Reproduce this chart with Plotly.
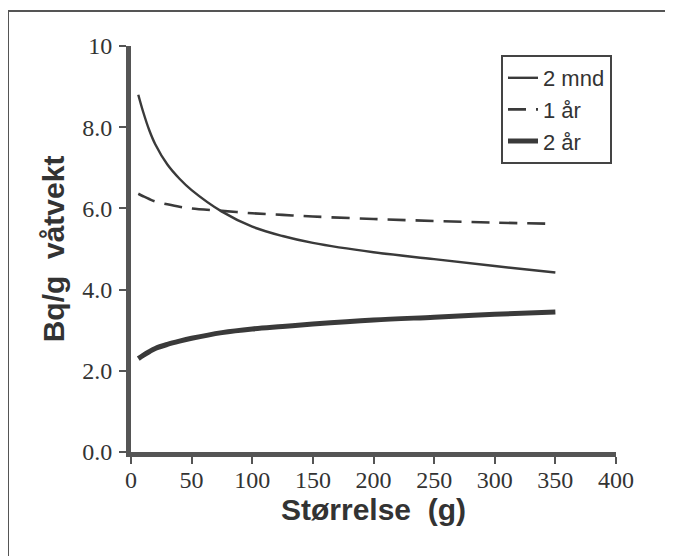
import plotly.graph_objects as go

# Data
size_g = [6, 10, 15, 20, 30, 40, 50, 75, 100, 125, 150, 200, 250, 300, 350]
mnd2 = [8.8, 8.38, 7.93, 7.58, 7.08, 6.73, 6.45, 5.92, 5.55, 5.32, 5.15, 4.92, 4.75, 4.58, 4.42]
aar1 = [6.36, 6.3, 6.23, 6.17, 6.1, 6.04, 6.0, 5.94, 5.88, 5.84, 5.8, 5.74, 5.69, 5.65, 5.62]
aar2 = [2.3, 2.38, 2.47, 2.55, 2.65, 2.73, 2.8, 2.94, 3.03, 3.09, 3.15, 3.25, 3.32, 3.39, 3.45]

x_ticks = [0, 50, 100, 150, 200, 250, 300, 350, 400]
y_ticks = [0, 2, 4, 6, 8, 10]
y_ticktext = ["0.0", "2.0", "4.0", "6.0", "8.0", "10"]

names = ["2 mnd", "1 år", "2 år"]

LINE = "#3a3a3a"
AXIS = "#555555"
TXT = "#333333"
SERIF = "Liberation Serif, Times New Roman, serif"
SANS = "Liberation Sans, Arial, sans-serif"

fig = go.Figure()
fig.add_trace(go.Scatter(x=size_g, y=mnd2, mode="lines", name=names[0], legendgroup="a",
                         line=dict(color=LINE, width=2.4, shape="spline")))
fig.add_trace(go.Scatter(x=size_g, y=aar1, mode="lines", name=names[1], legendgroup="b",
                         line=dict(color=LINE, width=2.6, dash="18px,10px", shape="spline")))
fig.add_trace(go.Scatter(x=size_g, y=aar2, mode="lines", name=names[2], legendgroup="c",
                         line=dict(color=LINE, width=5, shape="spline")))

# page has an 8px body margin, so the figure is drawn 8px smaller and offset
OFF = 8
W, H = 673 - OFF, 556 - OFF
L = 131 - OFF
T = 46 - OFF
B = H - (452 - OFF)
R = W - (616 - OFF)
pw, ph = W - L - R, H - T - B

def px(xp):
    return (xp - OFF - L) / pw

def py(yp):
    return (H - B - (yp - OFF)) / ph

fig.update_layout(
    width=W, height=H,
    margin=dict(l=L, r=R, t=T, b=B),
    paper_bgcolor="white", plot_bgcolor="white",
    font=dict(family=SERIF, color=TXT),
    showlegend=True,
    legend=dict(
        x=px(612), y=py(55), xanchor="right", yanchor="top",
        bordercolor="#444444", borderwidth=2, bgcolor="white",
        font=dict(family=SANS, size=22, color=TXT),
        tracegroupgap=0, traceorder="grouped",
    ),
    xaxis=dict(
        range=[0, 400], tickvals=x_ticks, ticktext=[str(v) for v in x_ticks],
        showline=True, linecolor=AXIS, linewidth=5, showgrid=False, zeroline=False,
        ticks="outside", ticklen=7, tickwidth=1.5, tickcolor=AXIS,
        ticklabelstandoff=-5,
        tickfont=dict(family=SERIF, size=24, color=TXT),
        title=dict(text="Størrelse  (g)", standoff=2,
                   font=dict(family=SANS, size=30, color=TXT, weight="bold")),
    ),
    yaxis=dict(
        range=[0, 10], tickvals=y_ticks, ticktext=y_ticktext,
        showline=True, linecolor=AXIS, linewidth=5, showgrid=False, zeroline=False,
        ticks="outside", ticklen=7, tickwidth=1.5, tickcolor=AXIS,
        ticklabelstandoff=2,
        tickfont=dict(family=SERIF, size=24, color=TXT),
        title=dict(text="Bq/g  våtvekt", standoff=10,
                   font=dict(family=SANS, size=30, color=TXT, weight="bold")),
    ),
    shapes=[
        dict(type="line", xref="paper", yref="paper", x0=px(8), x1=px(8), y0=py(11), y1=py(570),
             line=dict(color="#555555", width=2)),
        dict(type="line", xref="paper", yref="paper", x0=px(7), x1=px(690), y0=py(11), y1=py(11),
             line=dict(color="#555555", width=2)),
    ],
)

fig.write_html("out.html")
